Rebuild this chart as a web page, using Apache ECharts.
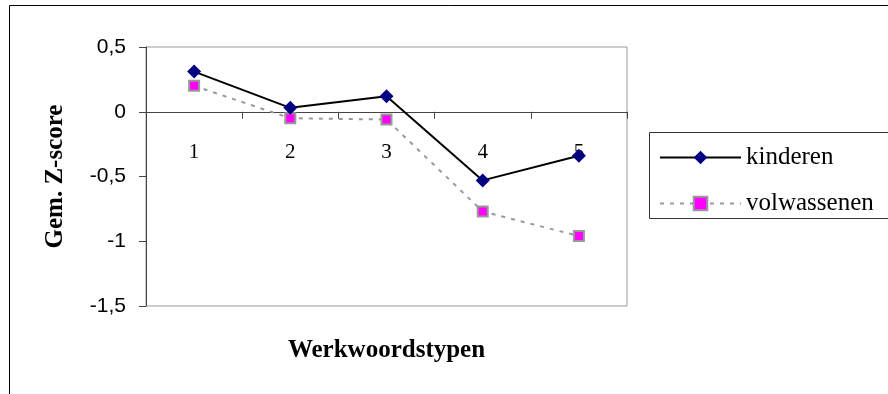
<!DOCTYPE html>
<html>
<head>
<meta charset="utf-8">
<script src="https://cdn.jsdelivr.net/npm/echarts@6/dist/echarts.min.js"></script>
<style>
html,body{margin:0;padding:0;background:#fff;}
#chart{width:888px;height:394px;}
</style>
</head>
<body>
<div id="chart"></div>
<script>
const categories = ['1', '2', '3', '4', '5'];
const kinderen = [0.31, 0.03, 0.12, -0.53, -0.34];
const volwassenen = [0.20, -0.05, -0.06, -0.77, -0.96];
const seriesNames = ['kinderen', 'volwassenen'];
const yTicks = { min: -1.5, max: 0.5, interval: 0.5 };

const serif = 'Liberation Serif, Times New Roman, serif';
const sans = 'Liberation Sans, Arial, sans-serif';

const gridTop = 47, gridBottomY = 306;
// place the category axis line at value 0
const zeroOffset = -((0 - yTicks.min) / (yTicks.max - yTicks.min)) * (gridBottomY - gridTop);

const chart = echarts.init(document.getElementById('chart'), null, { renderer: 'canvas' });
chart.setOption({
  animation: false,
  backgroundColor: '#fff',
  graphic: [
    { type: 'rect', z: -10, shape: { x: 9.5, y: 5.5, width: 900, height: 420 }, style: { fill: '#fff', stroke: '#000', lineWidth: 1 } },
    { type: 'rect', z: 0, shape: { x: 649.5, y: 132.5, width: 300, height: 86 }, style: { fill: 'none', stroke: '#333', lineWidth: 1 } }
  ],
  grid: { left: 146, top: gridTop, right: 261, bottom: 394 - gridBottomY, containLabel: false, outerBoundsMode: 'none',
    show: true, borderColor: '#999', borderWidth: 1, backgroundColor: '#fff' },
  legend: {
    orient: 'vertical', left: 659, top: 145, padding: 0, itemWidth: 81, itemHeight: 17, itemGap: 21,
    data: seriesNames,
    textStyle: { fontFamily: serif, fontSize: 25, color: '#000', lineHeight: 25, padding: [0, 0, 0, 0] }
  },
  xAxis: {
    type: 'category', data: categories, boundaryGap: true, position: 'bottom', offset: zeroOffset,
    axisLine: { onZero: false, lineStyle: { color: '#444', width: 1 } },
    axisTick: { show: true, inside: false, length: 7, lineStyle: { color: '#444' } },
    axisLabel: { margin: 30, fontFamily: serif, fontSize: 21, color: '#000' },
    name: 'Werkwoordstypen', nameLocation: 'middle', nameGap: 226,
    nameTextStyle: { fontFamily: serif, fontWeight: 'bold', fontSize: 25, color: '#000' }
  },
  yAxis: {
    type: 'value', min: yTicks.min, max: yTicks.max, interval: yTicks.interval,
    splitLine: { show: false },
    axisLine: { show: true, lineStyle: { color: '#444', width: 1 } },
    axisTick: { show: true, length: 7, lineStyle: { color: '#444' } },
    axisLabel: { margin: 20, fontFamily: sans, fontSize: 21, color: '#000', hideOverlap: false,
      formatter: v => String(v).replace('.', ',') },
    name: 'Gem. Z-score', nameLocation: 'middle', nameGap: 78, nameRotate: 90,
    nameTextStyle: { fontFamily: serif, fontWeight: 'bold', fontSize: 25, color: '#000' }
  },
  series: [
    {
      name: seriesNames[0], type: 'line', data: kinderen,
      symbol: 'diamond', symbolSize: 14,
      itemStyle: { color: '#000080' },
      lineStyle: { color: '#000', width: 2 },
      z: 3
    },
    {
      name: seriesNames[1], type: 'line', data: volwassenen,
      symbol: 'rect', symbolSize: 10,
      itemStyle: { color: '#ff00ff', borderColor: '#999', borderWidth: 2 },
      lineStyle: { color: '#999', width: 2, type: [4, 6] },
      z: 2
    }
  ]
});
</script>
</body>
</html>
